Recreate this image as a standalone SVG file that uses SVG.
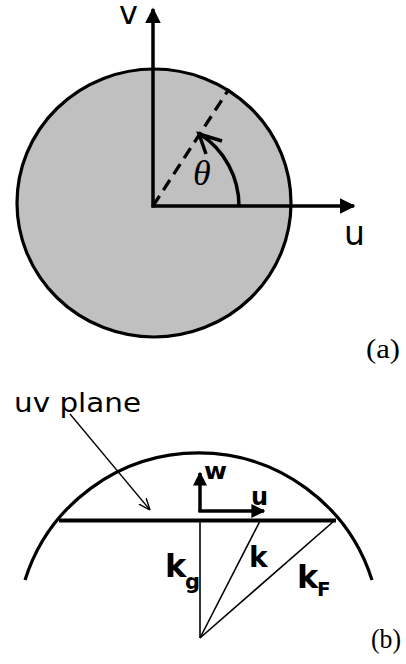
<svg xmlns="http://www.w3.org/2000/svg" width="406" height="664" viewBox="0 0 406 664">
<style>
.ax{stroke:#000;stroke-width:3.5;fill:none}
.thin{stroke:#000;stroke-width:1.6;fill:none}
.sans{font-family:"DejaVu Sans",Verdana,sans-serif;fill:#000}
.bold{font-family:"DejaVu Sans","Liberation Sans",sans-serif;font-weight:bold;fill:#000}
.serif{font-family:"Liberation Serif","Times New Roman",serif;fill:#000}
</style>
<defs>
<marker id="ah" viewBox="0 0 10 10" refX="9" refY="5" markerWidth="4.5" markerHeight="4.5" orient="auto" markerUnits="strokeWidth">
<path d="M0,0 L10,5 L0,10 z" fill="#000"/>
</marker>
<marker id="ahs" viewBox="0 0 10 10" refX="9" refY="5" markerWidth="4" markerHeight="4" orient="auto" markerUnits="strokeWidth">
<path d="M0,0 L10,5 L0,10 z" fill="#000"/>
</marker>
<marker id="open" viewBox="0 0 10 10" refX="10" refY="5" markerWidth="9" markerHeight="9" orient="auto" markerUnits="strokeWidth">
<path d="M0,1 L10,5 L0,9" fill="none" stroke="#000" stroke-width="1.2"/>
</marker>
</defs>

<g id="panel-a">
<g id="disk"><ellipse cx="154" cy="203" rx="137" ry="134" fill="#c0c0c0" stroke="#000" stroke-width="3.2"/></g>
<g id="connectors-a">
<line class="ax" x1="153" y1="207.5" x2="153" y2="9" marker-end="url(#ah)"/>
<line class="ax" x1="151.5" y1="206" x2="354" y2="206" marker-end="url(#ah)"/>
<line x1="153" y1="206" x2="229" y2="89" stroke="#000" stroke-width="3.3" stroke-dasharray="12,7"/>
<path class="ax" stroke-width="3.3" d="M239,206 A86,86 0 0 0 200,134"/>
<polyline class="ax" stroke-width="3.3" points="222,141 199,134 206,154"/>
</g>
<text class="sans" x="119" y="24" font-size="32">v</text>
<text class="sans" x="344" y="245" font-size="33">u</text>
<text class="serif" x="193" y="185" font-size="36" font-style="italic">θ</text>
<text class="serif" x="366" y="358" font-size="27" textLength="34" lengthAdjust="spacingAndGlyphs">(a)</text>
</g>

<g id="panel-b">
<g id="sphere"><path d="M25,580 A182,182 0 0 1 372,580" fill="none" stroke="#000" stroke-width="3.2"/></g>
<g id="plane"><line x1="59" y1="520.5" x2="336" y2="520.5" stroke="#000" stroke-width="4"/></g>
<g id="connectors-b">
<line class="thin" x1="200" y1="521" x2="200" y2="638"/>
<line class="thin" x1="260" y1="521" x2="200" y2="638"/>
<line class="thin" x1="334" y1="521" x2="200" y2="638"/>
<line class="ax" stroke-width="3" x1="200" y1="512" x2="200" y2="473" marker-end="url(#ahs)"/>
<line class="ax" stroke-width="3" x1="198.5" y1="511" x2="264" y2="511" marker-end="url(#ahs)"/>
<line x1="70" y1="414" x2="150" y2="510" stroke="#000" stroke-width="1.3" marker-end="url(#open)"/>
</g>
<text class="sans" x="14" y="412" font-size="26" textLength="127" lengthAdjust="spacingAndGlyphs">uv plane</text>
<text class="bold" x="204" y="479" font-size="23" textLength="23" lengthAdjust="spacingAndGlyphs">w</text>
<text class="bold" x="251" y="505" font-size="24">u</text>
<text class="bold" x="165" y="577" font-size="32">k</text>
<text class="bold" x="185" y="589" font-size="21">g</text>
<text class="bold" x="249" y="567" font-size="28">k</text>
<text class="bold" x="297" y="588" font-size="32">k</text>
<text class="bold" x="317" y="596" font-size="20">F</text>
<text class="serif" x="371" y="648" font-size="27" textLength="30" lengthAdjust="spacingAndGlyphs">(b)</text>
</g>
</svg>
